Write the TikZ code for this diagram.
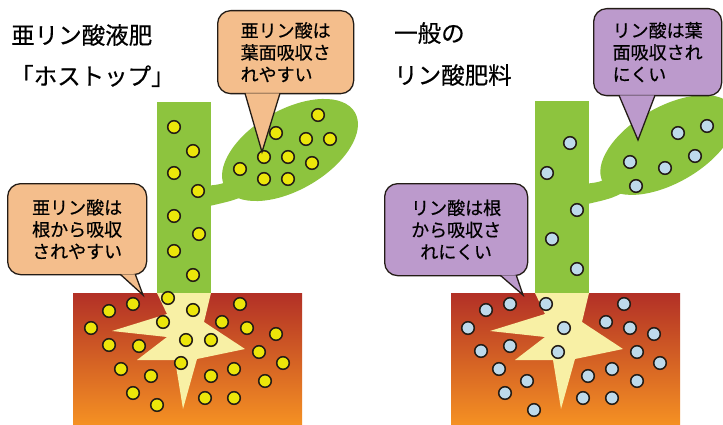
\documentclass[tikz,border=0pt]{standalone}
\usepackage{fontspec}
\newfontfamily\jfont[BoldFont={Noto Sans CJK JP},BoldFeatures={FakeBold=0.5}]{Noto Sans CJK JP}
\definecolor{ink}{RGB}{35,28,22}
\definecolor{stemgreen}{RGB}{141,196,62}
\definecolor{peach}{RGB}{244,190,140}
\definecolor{lilac}{RGB}{188,154,204}
\definecolor{yolk}{RGB}{236,230,10}
\definecolor{pale}{RGB}{190,218,235}
\definecolor{soiltop}{RGB}{178,48,38}
\definecolor{soilmid}{RGB}{228,98,32}
\definecolor{soilbot}{RGB}{245,145,35}
\definecolor{rootyellow}{RGB}{248,240,165}

\begin{document}
\begin{tikzpicture}[
  x=1pt,y=-1pt,
  title/.style={anchor=west,inner sep=0pt,font=\jfont\bfseries\fontsize{23.5pt}{28pt}\selectfont},
  note/.style={draw=ink,line width=1.3pt,rounded corners=13pt,anchor=north west,
    inner sep=0pt,font=\jfont\bfseries\fontsize{18pt}{22pt}\selectfont},
  tail/.style={draw=ink,line width=1.3pt,line join=miter},
  plant/.style={fill=stemgreen},
  soil/.style={top color=soiltop,middle color=soilmid,bottom color=soilbot},
  pdot/.style={draw=ink,line width=1.5pt,fill=#1}
]
  \useasboundingbox[fill=white] (0,0) rectangle (723,425);

  % left: phosphite
  \node[title] (nameA) at (11,35) {亜リン酸液肥};
  \node[title] (nameB) at (10,76) {「ホストップ」};

  \shade[soil] (73,293) rectangle (302,425);
  \fill[rootyellow] (157,293) -- (167,314) -- (112,331) -- (167,337) -- (137,360)
    -- (175,360) -- (183,409) -- (197,359) -- (245,349) -- (204,322) -- (211,293) -- cycle;
  \fill[plant] (157,102) rectangle (211,293);
  \fill[plant] (205,186) .. controls (225,184) .. (240,172) -- (256,190)
    .. controls (236,200) .. (205,207) -- cycle;
  \fill[plant, rotate around={30:(290,150)}] (290,150) ellipse [x radius=75, y radius=40];

  \foreach \p in {(174,127),(193,151),(174,173),(198,191),(174,216),(199,234),(174,251),(193,275),
    (318,115),(276,133),(306,139),(330,139),(264,157),(288,157),(312,163),(240,169),(264,179),(288,179),
    (168,298),(193,310),(109,311),(133,304),(91,328),(163,322),(240,304),(222,322),(247,328),
    (276,334),(109,345),(139,346),(186,340),(211,340),(259,352),(283,363),(181,363),(121,369),
    (151,376),(211,376),(234,369),(265,381),(133,393),(157,405),(205,398),(234,398)}
    \draw[pdot=yolk] \p circle[radius=6.3];

  \coordinate (leaftipA) at (262,152);
  \coordinate (roottipA) at (143,295);
  \node[note,fill=peach,minimum width=136pt,minimum height=83pt,align=left]
    (leafnoteA) at (217,10) {亜リン酸は\\葉面吸収さ\\れやすい};
  \draw[tail,fill=peach] ([xshift=28pt,yshift=1pt]leafnoteA.south west) -- (leaftipA)
    -- ([xshift=63pt,yshift=1pt]leafnoteA.south west);
  \node[note,fill=peach,minimum width=139pt,minimum height=91pt,align=center]
    (rootnoteA) at (7,183) {亜リン酸は\\根から吸収\\されやすい};
  \draw[tail,fill=peach] ([xshift=-27pt,yshift=1pt]rootnoteA.south east) -- (roottipA)
    -- ([xshift=-12pt,yshift=1pt]rootnoteA.south east);

  % right: ordinary phosphate
  \node[title] (nameC) at (394,33) {一般の};
  \node[title] (nameD) at (394,75) {リン酸肥料};

  \shade[soil] (451,293) rectangle (680,425);
  \fill[rootyellow] (535,293) -- (545,314) -- (490,331) -- (545,337) -- (515,360)
    -- (553,360) -- (561,409) -- (575,359) -- (623,349) -- (582,322) -- (589,293) -- cycle;
  \fill[plant] (535,101) rectangle (589,293);
  \fill[plant] (583,184) .. controls (603,182) .. (618,168) -- (634,186)
    .. controls (614,198) .. (583,205) -- cycle;
  \fill[plant, rotate around={30:(668,145)}] (668,145) ellipse [x radius=75, y radius=38];

  \foreach \p in {(570,143),(547,173),(577,210),(552,239),(577,269),
    (707,126),(678,133),(695,156),(630,162),(665,168),(636,186),
    (546,304),(510,304),(486,310),(468,328),(564,328),(624,304),(606,322),(630,328),
    (654,334),(481,351),(510,346),(558,352),(637,352),(660,363),(499,369),(527,381),
    (588,376),(612,369),(637,381),(505,393),(534,410),(583,398),(612,398)}
    \draw[pdot=pale] \p circle[radius=6.3];

  \coordinate (leaftipB) at (638,140);
  \coordinate (roottipB) at (523,295);
  \node[note,fill=lilac,minimum width=128pt,minimum height=87pt,align=left]
    (leafnoteB) at (593,8) {リン酸は葉\\面吸収され\\にくい};
  \draw[tail,fill=lilac] ([xshift=26pt,yshift=1pt]leafnoteB.south west) -- (leaftipB)
    -- ([xshift=62pt,yshift=1pt]leafnoteB.south west);
  \node[note,fill=lilac,minimum width=143pt,minimum height=92pt,align=center]
    (rootnoteB) at (384,183) {リン酸は根\\から吸収さ\\れにくい};
  \draw[tail,fill=lilac] ([xshift=-28pt,yshift=1pt]rootnoteB.south east) -- (roottipB)
    -- ([xshift=-12pt,yshift=1pt]rootnoteB.south east);
\end{tikzpicture}
\end{document}
